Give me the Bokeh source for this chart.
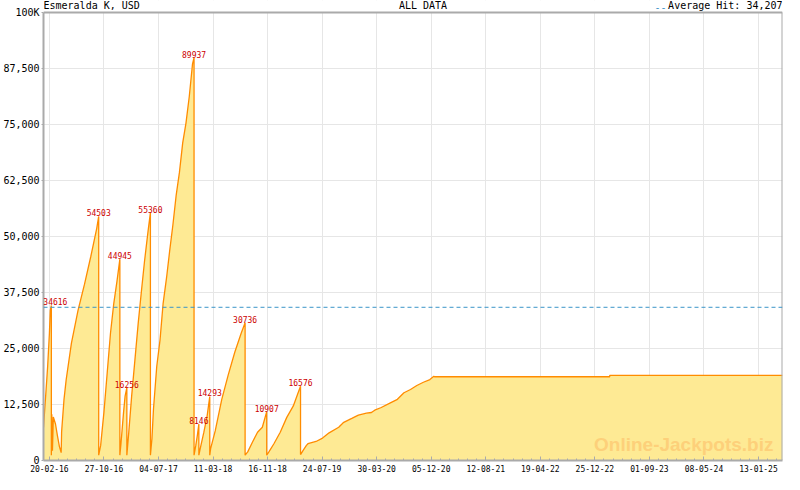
import datetime as dt
import pandas as pd
from bokeh.plotting import figure
from bokeh.core.properties import value
from bokeh.models import (ColumnDataSource, FixedTicker, DatetimeTickFormatter, Range1d,
                          Span, Label, LabelSet)
from bokeh.embed import file_html
from bokeh.resources import INLINE

title_left = "Esmeralda K, USD"
title_mid = "ALL DATA"
average_hit = 34207

dates = [
    "2016-01-24", "2016-01-28", "2016-02-05", "2016-02-12", "2016-02-20", "2016-02-24", "2016-02-29",
    "2016-02-29", "2016-03-02", "2016-03-05", "2016-03-09", "2016-03-19", "2016-03-28", "2016-04-06",
    "2016-04-14", "2016-04-16", "2016-04-27", "2016-05-07", "2016-05-31", "2016-06-30", "2016-07-30",
    "2016-08-28", "2016-09-24", "2016-10-03",
    "2016-10-03", "2016-10-12", "2016-10-27", "2016-11-11", "2016-11-26", "2016-12-11", "2016-12-26",
    "2017-01-08",
    "2017-01-08", "2017-01-13", "2017-01-25", "2017-02-01", "2017-02-09",
    "2017-02-09", "2017-02-18", "2017-03-03", "2017-03-18", "2017-04-02", "2017-04-17", "2017-05-01",
    "2017-05-17", "2017-05-28",
    "2017-05-28", "2017-06-04", "2017-06-11", "2017-06-26", "2017-07-11", "2017-07-25", "2017-08-10",
    "2017-08-24", "2017-09-08", "2017-09-23", "2017-10-08", "2017-10-23", "2017-11-07", "2017-11-22",
    "2017-12-07", "2017-12-14",
    "2017-12-14", "2017-12-22", "2017-12-29", "2018-01-05",
    "2018-01-05", "2018-01-13", "2018-01-28", "2018-02-12", "2018-02-24",
    "2018-02-24", "2018-02-28", "2018-03-21", "2018-04-20", "2018-05-20", "2018-06-19", "2018-07-18",
    "2018-08-05",
    "2018-08-05", "2018-08-17", "2018-09-08", "2018-10-01", "2018-10-23", "2018-11-12",
    "2018-11-12", "2018-11-22", "2018-12-15", "2019-01-13", "2019-02-12", "2019-03-14", "2019-04-05",
    "2019-04-16",
    "2019-04-16", "2019-04-28", "2019-05-13", "2019-05-20", "2019-06-26", "2019-07-26", "2019-08-25",
    "2019-10-08", "2019-10-31", "2019-12-07", "2020-01-06", "2020-02-12", "2020-03-06", "2020-03-21",
    "2020-04-20", "2020-06-03", "2020-07-03", "2020-08-02", "2020-09-01", "2020-09-30", "2020-10-30",
    "2020-11-29", "2020-12-17", "2020-12-20", "2023-03-03", "2023-03-03", "2025-05-03",
]
values = [
    7400, 10300, 15900, 21000, 28300, 33500, 34616,
    1200, 10350, 2200, 9700, 8150, 5500, 3100,
    1760, 6390, 13660, 18060, 26210, 33480, 39360,
    45600, 51830, 54503,
    1200, 3370, 10790, 19600, 28410, 35020, 40090,
    44945,
    1200, 3740, 10790, 14380, 16256,
    1200, 6390, 14380, 22470, 30620, 37890, 44490,
    51100, 55360,
    1200, 4850, 11450, 20990, 26870, 34950, 40810,
    46690, 52580, 59180, 64320, 70920, 75330, 81210,
    88540, 89937,
    1200, 3370, 5570, 8146,
    1200, 3020, 6320, 9980, 14293,
    1200, 2640, 6600, 13650, 19160, 24230, 28410,
    30736,
    1200, 1920, 4120, 6320, 7420, 10907,
    1200, 1920, 3740, 6320, 9630, 12180, 15130,
    16576,
    1320, 2270, 3370, 3740, 4250, 5000, 6170,
    7420, 8520, 9400, 10130, 10570, 10720, 11230,
    11830, 12930, 13660, 15130, 15860, 16740, 17470,
    18060, 18790, 18700, 18700, 19000, 19000,
]

peak_dates = ["2016-02-29", "2016-10-03", "2017-01-08", "2017-02-09", "2017-05-28", "2017-12-14",
              "2018-01-05", "2018-02-24", "2018-08-05", "2018-11-12", "2019-04-16"]
peak_values = [34616, 54503, 44945, 16256, 55360, 89937, 8146, 14293, 30736, 10907, 16576]
peak_label_dx = [4, 0, 0, 0, 0, 0, 0, 0, 0, 0, 0]

x_tick_labels = ["20-02-16", "27-10-16", "04-07-17", "11-03-18", "16-11-18", "24-07-19", "30-03-20",
                 "05-12-20", "12-08-21", "19-04-22", "25-12-22", "01-09-23", "08-05-24", "13-01-25"]
y_ticks = [0, 12500, 25000, 37500, 50000, 62500, 75000, 87500, 100000]
y_tick_labels = ["0", "12,500", "25,000", "37,500", "50,000", "62,500", "75,000", "87,500", "100K"]

MONO = "DejaVu Sans Mono"
Y_MAX = 100000      # top of the chart's value scale
Y_TOP = 102700      # extra band above it holds the header texts

xs = pd.to_datetime(dates)
src = ColumnDataSource(dict(x=xs, y=values))
peak_src = ColumnDataSource(dict(x=pd.to_datetime(peak_dates), y=peak_values,
                                 t=[str(v) for v in peak_values], dx=peak_label_dx))

def to_ms(d):
    return (d - dt.datetime(1970, 1, 1)).total_seconds() * 1000.0

tick_dts = [dt.datetime.strptime(s, "%d-%m-%y") for s in x_tick_labels]
major_ms = [to_ms(d) for d in tick_dts]
minor_ms = []
interval = major_ms[1] - major_ms[0]
for i in range(-1, len(major_ms) + 1):
    base = major_ms[0] + i * interval
    for k in range(6):
        minor_ms.append(base + k * interval / 6.0)

x_start = xs.min()
x_end = xs.max()

p = figure(width=784, height=474, x_axis_type="datetime", output_backend="svg",
           toolbar_location=None, x_range=Range1d(x_start, x_end), y_range=Range1d(0, Y_TOP),
           min_border_top=0, min_border_right=2, min_border_left=0, min_border_bottom=0)
p.background_fill_color = "white"
p.border_fill_color = "white"
p.outline_line_color = None

p.xgrid.grid_line_color = "#e6e6e6"
p.ygrid.grid_line_color = "#e6e6e6"

p.varea(x="x", y1=0, y2="y", source=src, fill_color="#feea94")
p.line(x="x", y="y", source=src, line_color="#ff8c00", line_width=1.3)

# blank header band above the value scale (covers the grid there)
p.quad(left=[x_start], right=[x_end], bottom=[Y_MAX], top=[Y_TOP], fill_color="white",
       line_color=None)
# frame border on top and right
p.segment(x0=[x_start], y0=[Y_MAX], x1=[x_end], y1=[Y_MAX], line_color="#aaaaaa", line_width=2)
p.segment(x0=[x_end], y0=[0], x1=[x_end], y1=[Y_MAX], line_color="#aaaaaa", line_width=2)

p.add_layout(Span(location=average_hit, dimension="width", line_color="#3a94c8",
                  line_dash="4 3", line_width=1))

p.add_layout(LabelSet(x="x", y="y", text="t", source=peak_src, x_offset="dx", y_offset=0,
                      text_align="center", text_baseline="bottom", text_color="#cc0000",
                      text_font_size="8px", text_font=value(MONO)))

# axes
p.xaxis.ticker = FixedTicker(ticks=major_ms, minor_ticks=minor_ms)
fmt = "%d-%m-%y"
p.xaxis.formatter = DatetimeTickFormatter(microseconds=fmt, milliseconds=fmt, seconds=fmt, minsec=fmt,
                                          minutes=fmt, hourmin=fmt, hours=fmt, days=fmt, months=fmt,
                                          years=fmt)
p.yaxis.ticker = FixedTicker(ticks=y_ticks)
p.yaxis.major_label_overrides = {t: l for t, l in zip(y_ticks, y_tick_labels)}
p.yaxis.bounds = (0, Y_MAX)

for ax in (p.xaxis, p.yaxis):
    ax.axis_line_color = "#aaaaaa"
    ax.axis_line_width = 2
    ax.major_tick_line_color = "#aaaaaa"
    ax.minor_tick_line_color = "#aaaaaa"
    ax.major_label_text_font = MONO
    ax.major_label_text_color = "black"

p.xaxis.major_tick_in = 4
p.xaxis.major_tick_out = 0
p.xaxis.minor_tick_in = 2
p.xaxis.minor_tick_out = 0
p.xaxis.major_label_text_font_size = "8px"
p.xaxis.major_label_standoff = 4

p.yaxis.major_tick_in = 0
p.yaxis.major_tick_out = 2
p.yaxis.minor_tick_in = 0
p.yaxis.minor_tick_out = 0
p.yaxis.major_label_text_font_size = "10px"
p.yaxis.major_label_standoff = 2

# header texts
hdr = dict(text_font=MONO, text_font_size="10px", text_baseline="bottom", y=Y_MAX, y_offset=2)
p.add_layout(Label(x=x_start, text=title_left, text_color="black", text_align="left", **hdr))
p.add_layout(Label(x=pd.Timestamp("2020-07-10"), text=title_mid, text_color="black",
                   text_align="left", **hdr))
p.add_layout(Label(x=x_end, text="Average Hit: " + f"{average_hit:,}", text_color="black",
                   text_align="right", **hdr))
p.add_layout(Label(x=x_end, x_offset=-116, text="--", text_color="#3a94c8",
                   text_align="right", **hdr))

# watermark
p.add_layout(Label(x=x_end, y=0, x_offset=-9, y_offset=6, text="Online-Jackpots.biz",
                   text_font="Liberation Sans", text_font_style="bold", text_font_size="19px",
                   text_color="#fdd07a", text_baseline="bottom", text_align="right"))

open("out.html", "w").write(file_html(p, INLINE))
